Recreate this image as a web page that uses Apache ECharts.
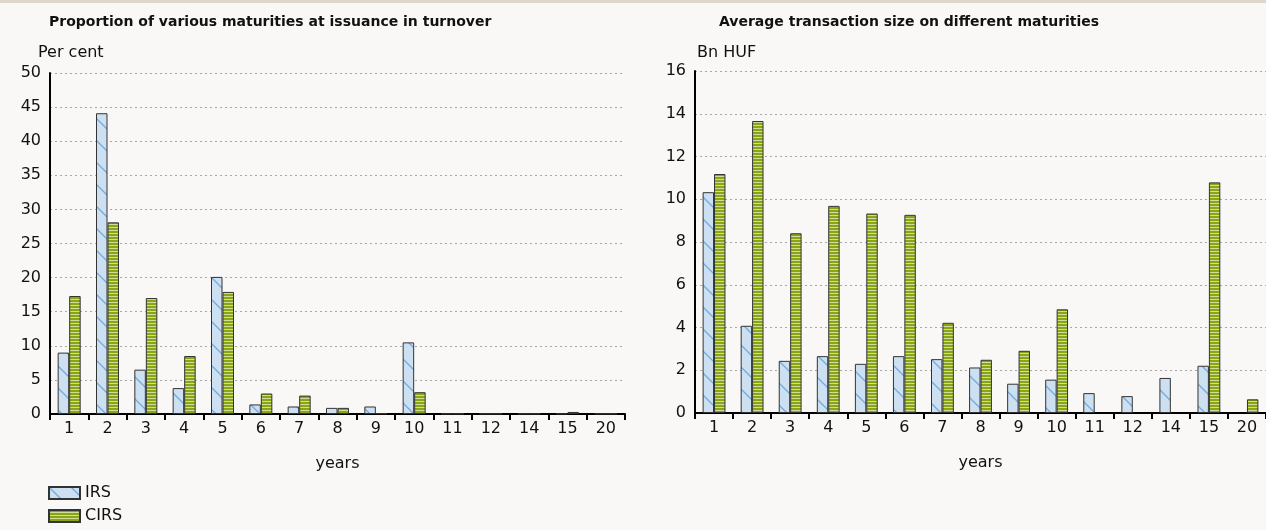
<!DOCTYPE html>
<html>
<head>
<meta charset="utf-8">
<script src="https://cdn.jsdelivr.net/npm/echarts@6/dist/echarts.min.js"></script>
<style>
  html, body { margin: 0; padding: 0; background: #f9f8f6; }
  #chart { width: 1266px; height: 530px; }
</style>
</head>
<body>
<div id="chart"></div>
<script>
// maturities (years)
const categories = ["1", "2", "3", "4", "5", "6", "7", "8", "9", "10", "11", "12", "14", "15", "20"];

// left: share in turnover, per cent
const shareIRS = [9.0, 44.1, 6.5, 3.8, 20.1, 1.4, 1.1, 0.9, 1.1, 10.5, 0.05, 0.05, 0.05, 0.05, 0.05];
const shareCIRS = [17.3, 28.1, 17.0, 8.5, 17.9, 3.0, 2.7, 0.9, 0.1, 3.2, 0.05, 0.05, 0.05, 0.3, 0.05];

// right: average transaction size, bn HUF
const sizeIRS = [10.33, 4.08, 2.44, 2.66, 2.3, 2.66, 2.52, 2.13, 1.37, 1.56, 0.93, 0.79, 1.64, 2.21, null];
const sizeCIRS = [11.18, 13.66, 8.41, 9.69, 9.33, 9.27, 4.22, 2.49, 2.91, 4.85, null, null, null, 10.79, 0.64];

const FONT = "DejaVu Sans";

// hatch patterns
function irsPattern() {
  const c = document.createElement("canvas");
  c.width = 22; c.height = 22;
  const g = c.getContext("2d");
  g.fillStyle = "#cde0f1";
  g.fillRect(0, 0, 22, 22);
  g.strokeStyle = "#74a9d8";
  g.lineWidth = 1.3;
  g.beginPath();
  g.moveTo(-2, -2); g.lineTo(24, 24);
  g.moveTo(-2, 20); g.lineTo(2, 24);
  g.moveTo(20, -2); g.lineTo(24, 2);
  g.stroke();
  return c;
}
function cirsPattern() {
  const c = document.createElement("canvas");
  c.width = 4; c.height = 3;
  const g = c.getContext("2d");
  g.fillStyle = "#8aa514";
  g.fillRect(0, 0, 4, 3);
  g.fillStyle = "#cfdc9c";
  g.fillRect(0, 2, 4, 1);
  return c;
}
const irsFill = { image: irsPattern(), repeat: "repeat" };
const cirsFill = { image: cirsPattern(), repeat: "repeat" };

let myChart = echarts.init(document.getElementById("chart"), null, { renderer: "canvas" });

function xAxisOf(gridIndex) {
  return {
    type: "category",
    gridIndex: gridIndex,
    data: categories,
    name: "years",
    nameLocation: "middle",
    nameGap: 42,
    nameTextStyle: { fontFamily: FONT, fontSize: 16, color: "#111" },
    axisLine: { lineStyle: { color: "#000", width: 2 } },
    axisTick: { show: true, length: 6, lineStyle: { color: "#000", width: 2 } },
    axisLabel: { fontFamily: FONT, fontSize: 16, color: "#111", margin: 7, interval: 0 }
  };
}
function yAxisOf(gridIndex, max, interval) {
  return {
    type: "value",
    gridIndex: gridIndex,
    min: 0,
    max: max,
    interval: interval,
    axisLine: { show: true, lineStyle: { color: "#000", width: 2 } },
    axisTick: { show: false },
    axisLabel: { fontFamily: FONT, fontSize: 16, color: "#111", margin: 9 },
    splitLine: { lineStyle: { color: "#a8a8a8", type: [2, 3], width: 1 } }
  };
}
function barOf(name, xi, fill, data) {
  return {
    name: name,
    type: "bar",
    xAxisIndex: xi,
    yAxisIndex: xi,
    data: data,
    barGap: "0%",
    barCategoryGap: "40%",
    itemStyle: { color: fill, borderColor: "#333", borderWidth: 1 }
  };
}

let option = {
  backgroundColor: "#f9f8f6",
  animation: false,
  graphic: [
    { type: "rect", shape: { x: 0, y: 0, width: 1266, height: 3 }, style: { fill: "#ddd6ca" } }
  ],
  title: [
    { text: "Proportion of various maturities at issuance in turnover", left: 44, top: 10,
      textStyle: { fontFamily: FONT, fontSize: 14, fontWeight: "bold", color: "#111" } },
    { text: "Average transaction size on different maturities", left: 714, top: 10,
      textStyle: { fontFamily: FONT, fontSize: 14, fontWeight: "bold", color: "#111" } },
    { text: "Per cent", left: 33, top: 40,
      textStyle: { fontFamily: FONT, fontSize: 16, fontWeight: "normal", color: "#111" } },
    { text: "Bn HUF", left: 692, top: 40,
      textStyle: { fontFamily: FONT, fontSize: 16, fontWeight: "normal", color: "#111" } }
  ],
  legend: {
    orient: "vertical",
    left: 48,
    top: 485,
    padding: 0,
    icon: "rect",
    itemWidth: 31,
    itemHeight: 12,
    itemGap: 7,
    textStyle: { fontFamily: FONT, fontSize: 16, color: "#111" },
    data: ["IRS", "CIRS"]
  },
  grid: [
    { left: 50, top: 73, width: 575, height: 341 },
    { left: 695, top: 71, width: 575, height: 342 }
  ],
  xAxis: [xAxisOf(0), xAxisOf(1)],
  yAxis: [yAxisOf(0, 50, 5), yAxisOf(1, 16, 2)],
  series: [
    barOf("IRS", 0, irsFill, shareIRS),
    barOf("CIRS", 0, cirsFill, shareCIRS),
    barOf("IRS", 1, irsFill, sizeIRS),
    barOf("CIRS", 1, cirsFill, sizeCIRS)
  ]
};

if (option && typeof option === "object") {
  myChart.setOption(option);
}
window.addEventListener("resize", myChart.resize);
</script>
</body>
</html>
